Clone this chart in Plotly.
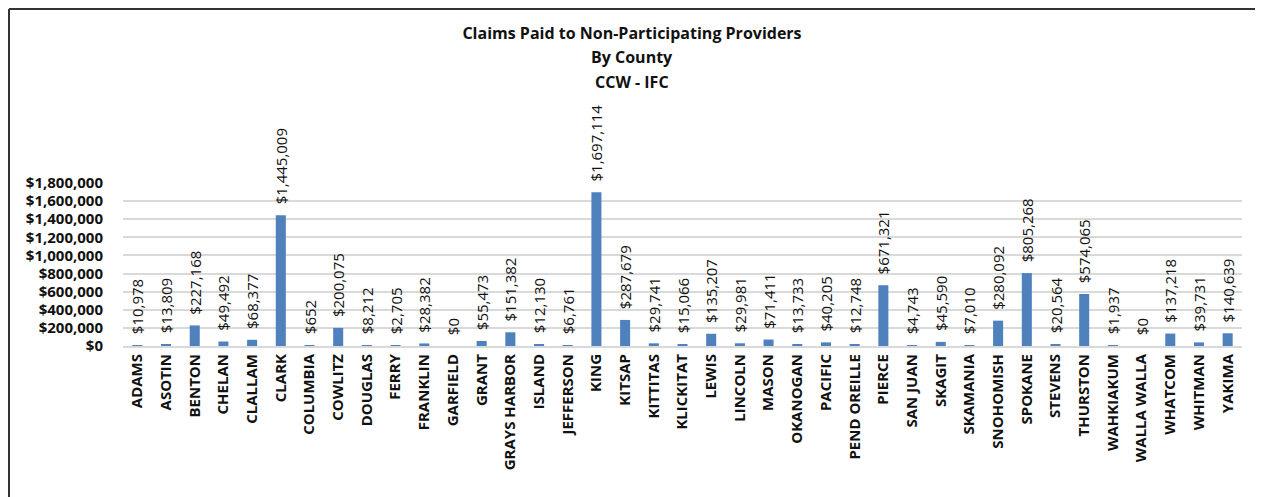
import plotly.graph_objects as go

counties = ["ADAMS", "ASOTIN", "BENTON", "CHELAN", "CLALLAM", "CLARK", "COLUMBIA", "COWLITZ",
            "DOUGLAS", "FERRY", "FRANKLIN", "GARFIELD", "GRANT", "GRAYS HARBOR", "ISLAND",
            "JEFFERSON", "KING", "KITSAP", "KITTITAS", "KLICKITAT", "LEWIS", "LINCOLN", "MASON",
            "OKANOGAN", "PACIFIC", "PEND OREILLE", "PIERCE", "SAN JUAN", "SKAGIT", "SKAMANIA",
            "SNOHOMISH", "SPOKANE", "STEVENS", "THURSTON", "WAHKIAKUM", "WALLA WALLA", "WHATCOM",
            "WHITMAN", "YAKIMA"]
claims_paid = [10978, 13809, 227168, 49492, 68377, 1445009, 652, 200075,
               8212, 2705, 28382, 0, 55473, 151382, 12130,
               6761, 1697114, 287679, 29741, 15066, 135207, 29981, 71411,
               13733, 40205, 12748, 671321, 4743, 45590, 7010,
               280092, 805268, 20564, 574065, 1937, 0, 137218,
               39731, 140639]
title_lines = ["Claims Paid to Non-Participating Providers", "By County", "CCW - IFC"]
y_tick_values = [0, 200000, 400000, 600000, 800000, 1000000, 1200000, 1400000, 1600000, 1800000]
y_tick_text = ["$" + f"{v:,}" for v in y_tick_values]

# page has an 8px body margin; figure sized to fit the window
OFF = 8
W, H = 1263 - OFF, 497 - OFF
# plot area in page pixels: x 123..1242, y 183..346
L, R, T, B = 123 - OFF, W - (1242 - OFF), 183 - OFF, H - (346 - OFF)
pw, ph = W - L - R, H - T - B

def px_x(x):
    return (x - OFF - L) / pw

def px_y(y):
    return (H - B - (y - OFF)) / ph

FONT = "Open Sans"
DARK = "#111111"

fig = go.Figure()
fig.add_trace(go.Bar(
    x=counties, y=claims_paid,
    marker=dict(color="#4F81BD", line=dict(width=0)),
    texttemplate="\u00a0\u00a0$%{y:,}", textposition="outside", textangle=-90,
    textfont=dict(family=FONT, size=15, color=DARK),
    constraintext="none", cliponaxis=False,
    hovertemplate="%{x}: $%{y:,}<extra></extra>",
))

fig.update_layout(
    width=W, height=H,
    margin=dict(l=L, r=R, t=T, b=B, autoexpand=False),
    paper_bgcolor="white", plot_bgcolor="white",
    bargap=0.65, showlegend=False,
    font=dict(family=FONT, color=DARK),
    title=dict(text="<b>" + title_lines[0] + "</b>", x=px_x(632), xref="paper", xanchor="center",
               y=1 - (33 - OFF) / H, yanchor="middle",
               font=dict(family=FONT, size=16, color=DARK)),
)
for line, py in zip(title_lines[1:], [57, 82]):
    fig.add_annotation(text="<b>" + line + "</b>", xref="paper", yref="paper",
                       x=px_x(632), y=px_y(py), xanchor="center", yanchor="middle",
                       showarrow=False, font=dict(family=FONT, size=16, color=DARK))

fig.update_xaxes(
    tickangle=-90, tickfont=dict(family=FONT, size=15, color=DARK, weight="bold"),
    showgrid=False, showline=True, linecolor="#d9d9d9", linewidth=2,
    ticks="", ticklabelstandoff=0, range=[-0.5, len(counties) - 0.5],
)
fig.update_yaxes(
    range=[0, 1800000], tickmode="array", tickvals=y_tick_values, ticktext=y_tick_text,
    tickfont=dict(family=FONT, size=15, color=DARK, weight="bold"),
    showgrid=True, gridcolor="#d9d9d9", gridwidth=2, zeroline=False,
    showline=False, ticks="", ticklabelstandoff=19,
)

# chart border (top and left edges visible)
fig.add_shape(type="line", xref="paper", yref="paper",
              x0=px_x(OFF + 1), x1=px_x(1270), y0=px_y(OFF + 1), y1=px_y(OFF + 1),
              line=dict(color="#333333", width=2))
fig.add_shape(type="line", xref="paper", yref="paper",
              x0=px_x(OFF + 1), x1=px_x(OFF + 1), y0=px_y(OFF + 1), y1=px_y(500),
              line=dict(color="#333333", width=2))

fig.write_html("out.html")
